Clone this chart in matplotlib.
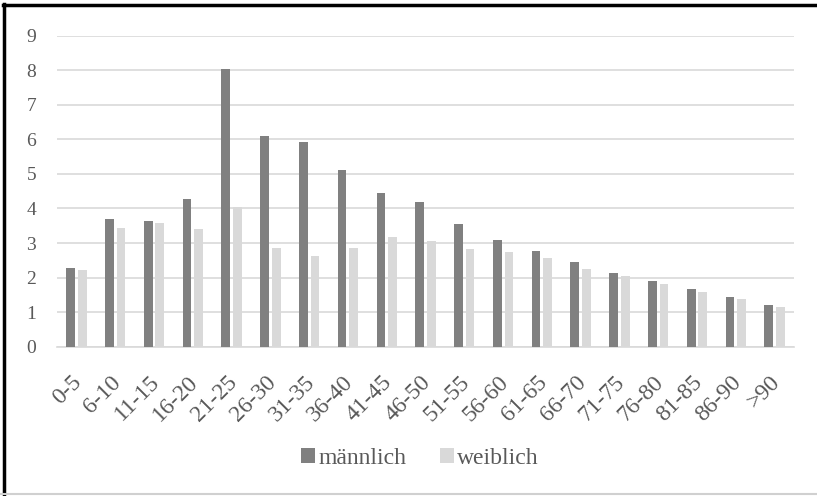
import numpy as np
import matplotlib.pyplot as plt
from matplotlib.lines import Line2D
from matplotlib.transforms import ScaledTranslation

# age groups and rates
age_groups = ["0-5", "6-10", "11-15", "16-20", "21-25", "26-30", "31-35", "36-40",
              "41-45", "46-50", "51-55", "56-60", "61-65", "66-70", "71-75", "76-80",
              "81-85", "86-90", ">90"]
maennlich = [2.27, 3.70, 3.63, 4.28, 8.05, 6.10, 5.92, 5.11, 4.44, 4.18,
             3.55, 3.08, 2.78, 2.44, 2.14, 1.89, 1.67, 1.45, 1.20]
weiblich = [2.22, 3.44, 3.58, 3.41, 4.03, 2.86, 2.63, 2.86, 3.18, 3.07,
            2.82, 2.74, 2.56, 2.26, 2.04, 1.81, 1.59, 1.37, 1.15]

plt.rcParams['font.family'] = ['Liberation Serif', 'DejaVu Serif']
text_col = "#595959"
grid_col = "#d9d9d9"

fig = plt.figure(figsize=(8.17, 4.96), dpi=100)
ax = fig.add_axes([0.0698, 0.301, 0.902, 0.627])

x = np.arange(len(age_groups))
w = 0.225
ax.bar(x - 0.15, maennlich, width=w, color="#808080", label="männlich", zorder=3)
ax.bar(x + 0.15, weiblich, width=w, color="#d9d9d9", label="weiblich", zorder=3)

ax.set_xlim(-0.5, len(age_groups) - 0.5)
ax.set_ylim(0, 9)
ax.set_yticks(range(0, 10))
ax.yaxis.grid(True, color=grid_col, linewidth=1.2, zorder=0)
for s in ["top", "right", "left"]:
    ax.spines[s].set_visible(False)
ax.spines["bottom"].set_color(grid_col)
ax.spines["bottom"].set_linewidth(1.2)
ax.tick_params(axis="both", length=0, colors=text_col)
ax.tick_params(axis="y", pad=15, labelsize=14)
ax.tick_params(axis="x", pad=18)
ax.set_xticks(x)
ax.set_xticklabels(age_groups, rotation=45, ha="right", va="top",
                   rotation_mode="anchor", fontsize=17)
shift = ScaledTranslation(-5 / 100, 0, fig.dpi_scale_trans)
for lab in ax.get_xticklabels():
    lab.set_transform(lab.get_transform() + shift)

fig.legend(loc="center", bbox_to_anchor=(0.514, 0.075), ncol=2, frameon=False,
           fontsize=17, handlelength=0.6, handleheight=0.6, handletextpad=0.15,
           columnspacing=1.4, labelcolor=text_col)

# frame around the chart
fig.add_artist(Line2D([0.004, 1.0], [0.990, 0.990], color="black", linewidth=2.5))
fig.add_artist(Line2D([0.005, 0.005], [0.0, 0.992], color="black", linewidth=2.5))
fig.add_artist(Line2D([0.0, 1.0], [0.004, 0.004], color="#d0d0d0", linewidth=1.5))

fig.savefig("out.png", dpi=100)
